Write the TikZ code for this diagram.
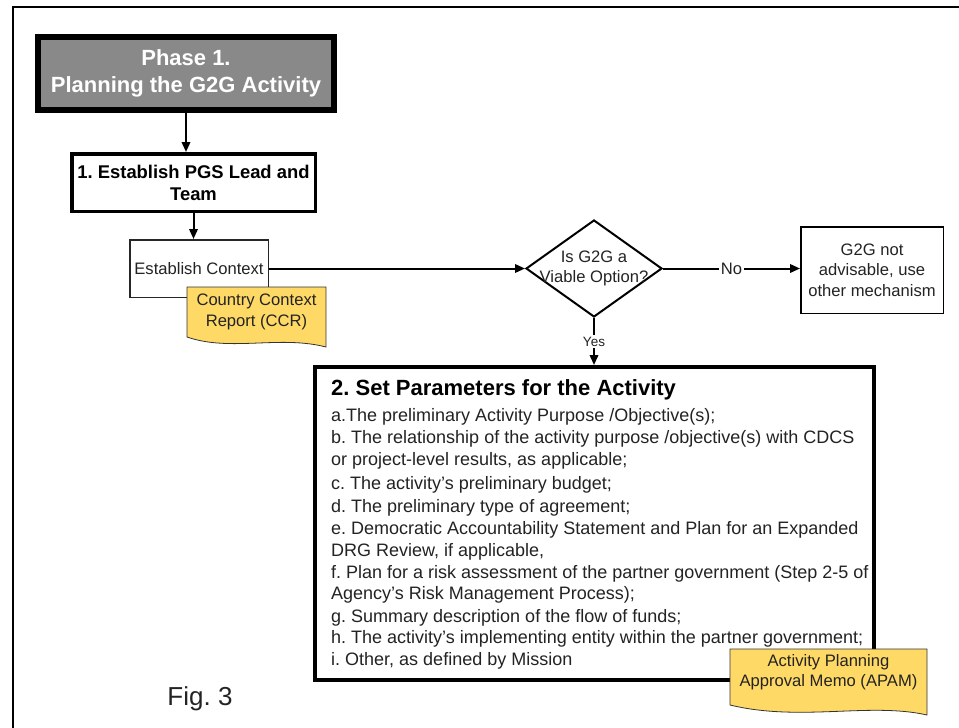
\documentclass[tikz,border=0pt]{standalone}
\usepackage{fontspec}
\setmainfont{Liberation Sans}
\usetikzlibrary{arrows.meta,shapes.geometric}
\newcommand\myfs[2]{\fontsize{#1}{#2}\selectfont}
\definecolor{phasegray}{RGB}{137,137,137}
\definecolor{docyellow}{RGB}{255,217,102}
\definecolor{txt}{RGB}{35,35,35}
\frenchspacing
\begin{document}
\frenchspacing
\begin{tikzpicture}[x=1pt,y=-1pt,
  arr/.style={draw=black, line width=2pt, -{Triangle[length=10pt,width=8.5pt]}},
  lbl/.style={fill=white, inner sep=1.5pt, text=txt},
  box/.style={draw=black, fill=white, inner sep=0pt, align=center, text=txt},
  doc/.style={draw=black!80, line width=0.8pt, fill=docyellow},
  doctext/.style={align=center, text=txt, font=\myfs{16.6}{21}, inner sep=0pt},
  item/.style={anchor=base west, inner sep=0pt, text=txt, font=\myfs{18}{22}}]
\useasboundingbox (0,0) rectangle (959,728);
\clip (0,0) rectangle (959,728);
% outer frame
\draw[line width=2.5pt] (13,740) -- (13,7) -- (975,7);
% phase box
\node[box, line width=6pt, fill=phasegray, minimum width=296pt, minimum height=73pt,
  text=white, font=\bfseries\myfs{22}{27}] (phase) at (186,73.5) {Phase 1.\\Planning the G2G Activity};
% step 1
\node[box, line width=3.5pt, minimum width=243.5pt, minimum height=57.5pt,
  text=black, font=\bfseries\myfs{18.4}{22}] (box1) at (193.5,182.5) {1. Establish PGS Lead and\\Team};
% establish context
\node[box, line width=1.5pt, draw=black!85, minimum width=138.5pt, minimum height=57.5pt,
  font=\myfs{16.6}{20}] (ctx) at (199,268.5) {Establish Context};
% CCR document
\draw[doc] (187,287) -- (326,287) -- (326,347) .. controls (280,335) and (230,352) .. (187,337) -- cycle;
\node[doctext] (ccrt) at (256.5,311.5) {Country Context\\Report (CCR)};
% decision
\node[draw=black, line width=2pt, diamond, minimum width=136pt, minimum height=97pt, inner sep=0pt] (dia) at (594,268.5) {};
\node[align=center, text=txt, font=\myfs{16.6}{20}, inner sep=0pt] (diat) at (dia.center) {Is G2G a\\Viable Option?};
% no box
\node[box, line width=1.5pt, minimum width=142.5pt, minimum height=86.5pt,
  font=\myfs{16.6}{20.5}] (nobox) at (872,270) {G2G not\\advisable, use\\other mechanism};
% step 2 box
\node[box, line width=4pt, minimum width=559pt, minimum height=313pt] (box2) at (594.5,523.5) {};
\node[anchor=base west, inner sep=0pt, font=\bfseries\myfs{22}{26}] (t2) at (331,395) {2. Set Parameters for the Activity};
\node[item] (la) at (331,421.5) {a.The preliminary Activity Purpose /Objective(s);};
\node[item] (lb) at (331,443.5) {b. The relationship of the activity purpose /objective(s) with CDCS};
\node[item] (lb2) at (331,465.5) {or project-level results, as applicable;};
\node[item] (lc) at (331,489) {c. The activity's preliminary budget;};
\node[item] (ld) at (331,512) {d. The preliminary type of agreement;};
\node[item] (le) at (331,534.5) {e. Democratic Accountability Statement and Plan for an Expanded};
\node[item] (le2) at (331,556.5) {DRG Review, if applicable,};
\node[item] (lf) at (331,578.5) {f. Plan for a risk assessment of the partner government (Step 2-5 of};
\node[item] (lf2) at (331,599.5) {Agency's Risk Management Process);};
\node[item] (lg) at (331,622) {g. Summary description of the flow of funds;};
\node[item] (lh) at (331,643.5) {h. The activity's implementing entity within the partner government;};
\node[item] (li) at (331,665.5) {i. Other, as defined by Mission};
% APAM document
\draw[doc] (730,649) -- (927,649) -- (927,715) .. controls (870,702) and (800,722) .. (730,705) -- cycle;
\node[doctext, font=\myfs{16.6}{20}] (apamt) at (828.5,672) {Activity Planning\\Approval Memo (APAM)};
% connectors
\draw[arr] (phase.south) -- (phase.south |- box1.north);
\draw[arr] (box1.south) -- (box1.south |- ctx.north);
\draw[arr] (ctx.east) -- (dia.west);
\draw[arr] (dia.east) -- node[lbl, font=\myfs{16.6}{20}] (no) {No} (dia.east -| nobox.west);
\draw[arr] (dia.south) -- node[lbl, font=\myfs{13.5}{15}] (yes) {Yes} (dia.south |- box2.north);
% caption
\node[text=txt, font=\myfs{26}{30}, inner sep=0pt] (fig) at (200,699) {Fig. 3};
\end{tikzpicture}
\end{document}
